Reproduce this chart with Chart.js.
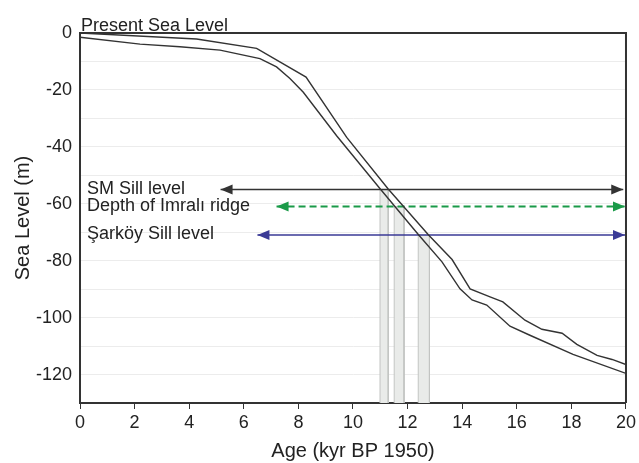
<!DOCTYPE html>
<html>
<head>
<meta charset="utf-8">
<script src="https://cdn.jsdelivr.net/npm/chart.js@4"></script>
<style>
  body { margin: 0; background: #fff; }
  #wrap { width: 639px; height: 463px; }
</style>
</head>
<body>
<div id="wrap"><canvas id="chart" width="639" height="463"></canvas></div>
<script>
// sea level curves (age in kyr BP, level in m)
const ageUpper = [0, 4.27, 6.47, 8.28, 9.77, 11.29, 12.76, 13.63, 14.29, 15.02, 15.49, 16.3, 16.92, 17.66, 18.2, 18.94, 19.49, 20]
const seaUpper = [0, -2.1, -5.4, -15.5, -36.7, -54.8, -70.9, -79.6, -89.9, -92.7, -94.5, -100.9, -104.1, -105.5, -109.4, -113.3, -114.7, -116.5]
const ageLower = [0, 2.2, 3.66, 5.13, 6.59, 7.2, 7.69, 8.18, 9.4, 11.0, 12.4, 13.26, 13.92, 14.36, 14.9, 15.75, 16.48, 18.06, 20]
const seaLower = [-1.5, -3.9, -4.85, -6.0, -9.0, -11.9, -16.0, -20.8, -36.1, -54.8, -70.9, -80.4, -89.9, -93.8, -95.6, -103, -106.2, -112.9, -119.6]

// reference levels drawn as arrows
const arrowLabels = ["SM Sill level", "Depth of Imralı ridge", "Şarköy Sill level"]
const arrowLevel = [-55, -61, -71]
const arrowStart = [5.15, 7.2, 6.5]
const arrowEnd = [19.9, 20, 20]
const arrowColors = ["#333333", "#1a9a48", "#3a3a96"]

// shaded age windows
const bandStart = [10.99, 11.51, 12.39]
const bandEnd = [11.29, 11.87, 12.8]
const bandTop = [-55, -61, -71]

const xTicks = [0, 2, 4, 6, 8, 10, 12, 14, 16, 18, 20]
const yTicks = [0, -20, -40, -60, -80, -100, -120]

Chart.defaults.font.family = "'Liberation Sans', Arial, sans-serif"
Chart.defaults.color = "#222"

const toPoints = (xs, ys) => xs.map((x, i) => ({ x: x, y: ys[i] }))

const datasets = [
  { data: toPoints(ageUpper, seaUpper), borderColor: "#333", borderWidth: 1.4 },
  { data: toPoints(ageLower, seaLower), borderColor: "#333", borderWidth: 1.4 }
]
arrowLevel.forEach((lv, i) => {
  datasets.push({
    data: [{ x: arrowStart[i], y: lv }, { x: arrowEnd[i], y: lv }],
    borderColor: arrowColors[i],
    borderWidth: i === 1 ? 2 : 1.5,
    borderDash: i === 1 ? [7, 4] : []
  })
})
bandStart.forEach((s, i) => {
  datasets.push({
    data: [{ x: s, y: -130 }, { x: s, y: bandTop[i] }, { x: bandEnd[i], y: bandTop[i] }, { x: bandEnd[i], y: -130 }],
    borderColor: "#c2c4c2",
    borderWidth: 1,
    backgroundColor: "#e9ebe9",
    fill: "start"
  })
})
datasets.forEach(d => { d.pointRadius = 0; d.tension = 0; if (!d.fill) d.fill = false })

const extras = {
  id: "extras",
  afterDatasetsDraw(chart) {
    const ctx = chart.ctx
    const xs = chart.scales.x, ys = chart.scales.y
    const a = chart.chartArea
    ctx.save()
    // arrow heads and their labels
    arrowLevel.forEach((lv, i) => {
      const y = ys.getPixelForValue(lv)
      const x0 = xs.getPixelForValue(arrowStart[i])
      const x1 = Math.min(xs.getPixelForValue(arrowEnd[i]), a.right - 1)
      ctx.fillStyle = arrowColors[i]
      ctx.beginPath()
      ctx.moveTo(x0, y); ctx.lineTo(x0 + 12, y - 5); ctx.lineTo(x0 + 12, y + 5); ctx.closePath()
      ctx.fill()
      ctx.beginPath()
      ctx.moveTo(x1, y); ctx.lineTo(x1 - 12, y - 5); ctx.lineTo(x1 - 12, y + 5); ctx.closePath()
      ctx.fill()
      ctx.fillStyle = "#222"
      ctx.font = "18px 'Liberation Sans', Arial, sans-serif"
      ctx.textBaseline = "middle"
      ctx.textAlign = "left"
      ctx.fillText(arrowLabels[i], a.left + 7, y - 1)
    })
    // top and right frame
    ctx.strokeStyle = "#333"
    ctx.lineWidth = 2
    ctx.beginPath()
    ctx.moveTo(a.left, a.top); ctx.lineTo(a.right, a.top); ctx.lineTo(a.right, a.bottom)
    ctx.stroke()
    ctx.fillStyle = "#222"
    ctx.font = "18px 'Liberation Sans', Arial, sans-serif"
    ctx.textBaseline = "alphabetic"
    ctx.fillText("Present Sea Level", a.left + 1, a.top - 2)
    ctx.restore()
  }
}

new Chart(document.getElementById("chart"), {
  type: "line",
  data: { datasets: datasets },
  options: {
    responsive: false,
    animation: false,
    layout: { padding: { top: 33, right: 13, left: 0, bottom: 0 } },
    plugins: { legend: { display: false }, tooltip: { enabled: false } },
    scales: {
      x: {
        type: "linear",
        min: 0,
        max: 20,
        afterFit: s => { s.height = 60 },
        afterBuildTicks: s => { s.ticks = xTicks.map(v => ({ value: v })) },
        ticks: { font: { size: 18 }, padding: 3, maxRotation: 0 },
        grid: { drawOnChartArea: false, drawTicks: true, tickLength: 6, color: "#333" },
        border: { color: "#333", width: 2 },
        title: { display: true, text: "Age (kyr BP 1950)", font: { size: 20 }, padding: { top: 7, bottom: 0 } }
      },
      y: {
        type: "linear",
        min: -130,
        max: 0,
        afterFit: s => { s.width = 80 },
        ticks: { stepSize: 10, font: { size: 18 }, padding: 8, callback: v => yTicks.includes(v) ? String(v) : "" },
        grid: { drawTicks: false, color: "#ececec" },
        border: { color: "#333", width: 2 },
        title: { display: true, text: "Sea Level (m)", font: { size: 20 }, padding: { top: 11, bottom: 0 } }
      }
    }
  },
  plugins: [extras]
})
</script>
</body>
</html>
